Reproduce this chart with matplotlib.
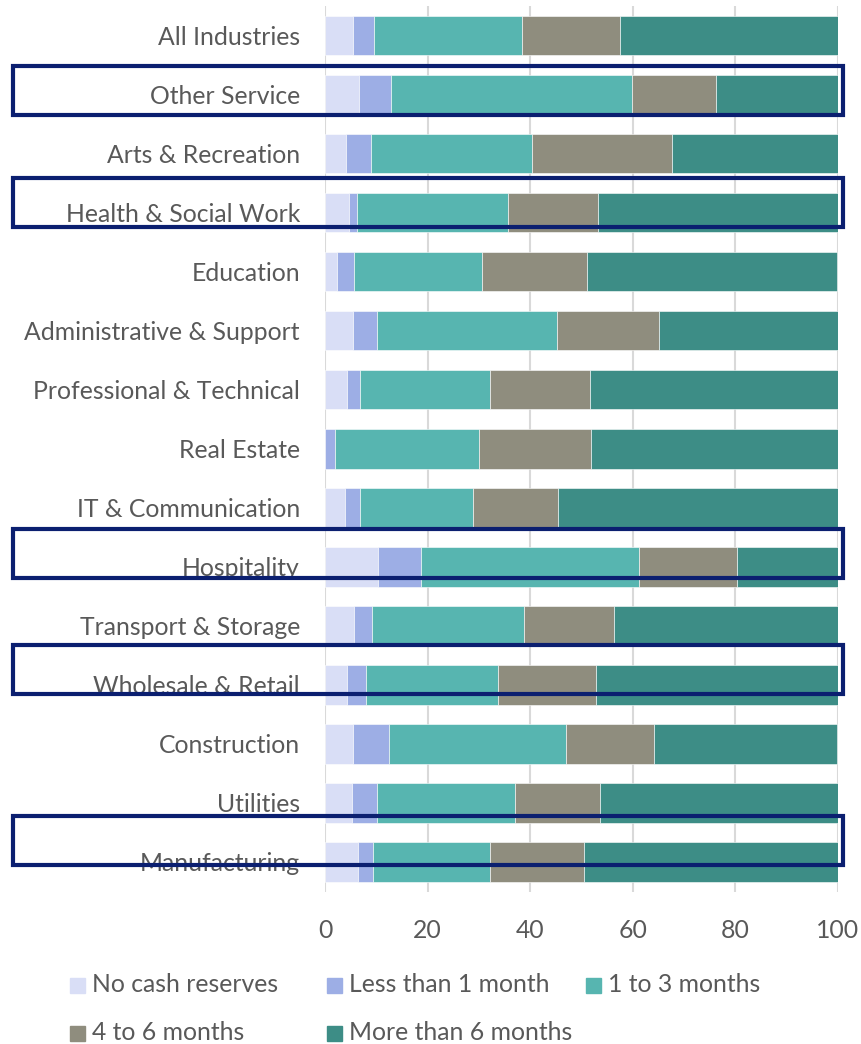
import matplotlib
matplotlib.use("Agg")
import matplotlib.pyplot as plt
from matplotlib.patches import Rectangle
from matplotlib.transforms import blended_transform_factory
import numpy as np

plt.rcParams['font.family'] = ['Lato', 'DejaVu Sans']

industries = [
    "All Industries", "Other Service", "Arts & Recreation", "Health & Social Work",
    "Education", "Administrative & Support", "Professional & Technical", "Real Estate",
    "IT & Communication", "Hospitality", "Transport & Storage", "Wholesale & Retail",
    "Construction", "Utilities", "Manufacturing",
]
series_names = ["No cash reserves", "Less than 1 month", "1 to 3 months",
                "4 to 6 months", "More than 6 months"]

no_cash = [5.4, 6.6, 4.1, 4.6, 2.3, 5.5, 4.2, 0.0, 3.9, 10.3, 5.7, 4.3, 5.4, 5.2, 6.4]
under_1m = [4.1, 6.2, 4.8, 1.7, 3.4, 4.7, 2.7, 2.0, 3.0, 8.5, 3.4, 3.6, 7.1, 4.9, 2.9]
m1_3 = [28.9, 47.1, 31.5, 29.4, 25.0, 35.0, 25.3, 28.1, 21.9, 42.4, 29.7, 25.8, 34.4, 27.0, 22.8]
m4_6 = [19.1, 16.4, 27.3, 17.5, 20.3, 19.9, 19.5, 21.8, 16.7, 19.2, 17.6, 19.1, 17.2, 16.6, 18.4]
over_6m = [42.5, 23.7, 32.3, 46.8, 48.9, 34.9, 48.3, 48.1, 54.5, 19.6, 43.6, 47.2, 35.8, 46.3, 49.5]

highlighted = ["Other Service", "Health & Social Work", "Hospitality",
               "Wholesale & Retail", "Manufacturing"]
highlight_shift = [-0.075, -0.163, -0.23, -0.26, -0.37]

colors = ["#D9DEF6", "#9DAEE5", "#57B5B0", "#8F8D7E", "#3D8D86"]
text_col = "#595959"
fs = 17.8

fig = plt.figure(figsize=(8.61, 10.44), dpi=100)
ax = fig.add_axes([325 / 861, 1 - 891.5 / 1044, 513 / 861, 885.5 / 1044])

y = np.arange(len(industries))
left = np.zeros(len(industries))
for vals, c, name in zip([no_cash, under_1m, m1_3, m4_6, over_6m], colors, series_names):
    ax.barh(y, vals, left=left, height=0.67, color=c, edgecolor="white",
            linewidth=0.4, label=name, zorder=2)
    left += np.array(vals)

ax.set_xlim(0, 100)
ax.set_ylim(len(industries) - 0.5, -0.5)
ax.set_xticks(np.arange(0, 101, 20))
ax.set_yticks(y)
ax.set_yticklabels(industries)
ax.grid(axis="x", color="#D9D9D9", linewidth=1.5, zorder=0)
ax.set_axisbelow(True)
for s in ax.spines.values():
    s.set_visible(False)
ax.tick_params(axis="x", length=0, pad=20, labelsize=fs, labelcolor=text_col)
ax.tick_params(axis="y", length=0, pad=18, labelsize=fs, labelcolor=text_col)

# navy outline boxes around selected rows
tr = blended_transform_factory(fig.transFigure, ax.transData)
for name, dy in zip(highlighted, highlight_shift):
    yc = industries.index(name) + dy
    fig.add_artist(Rectangle((13 / 861, yc - 0.415), 830 / 861, 0.83, transform=tr,
                             fill=False, edgecolor="#0B1F70", linewidth=3, zorder=10))

# legend laid out in two rows
legend_pos = [(70, 985), (327, 985), (586, 985), (70, 1033), (327, 1033)]
for (px, py), c, name in zip(legend_pos, colors, series_names):
    fig.add_artist(Rectangle((px / 861, 1 - (py + 7.5) / 1044), 15 / 861, 15 / 1044,
                             transform=fig.transFigure, color=c))
    fig.text((px + 22) / 861, 1 - py / 1044, name, fontsize=fs, color=text_col,
             va="center", ha="left")

fig.savefig("out.png", dpi=100)
